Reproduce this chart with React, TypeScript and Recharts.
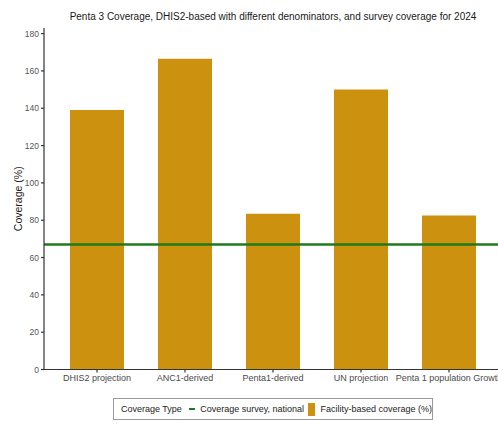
import { ComposedChart, Bar, XAxis, YAxis, ReferenceLine, Legend } from 'recharts'

const categories = ['DHIS2 projection', 'ANC1-derived', 'Penta1-derived', 'UN projection', 'Penta 1 population Growth']
const facilityCoverage = [139, 166.5, 83.5, 150, 82.5]
const surveyCoverage = 67
const yTicks = [0, 20, 40, 60, 80, 100, 120, 140, 160, 180]

const title = 'Penta 3 Coverage, DHIS2-based with different denominators, and survey coverage for 2024'
const legendTitle = 'Coverage Type'
const surveyLabel = 'Coverage survey, national'
const facilityLabel = 'Facility-based coverage (%)'

const GOLD = '#cc920f'
const GREEN = '#1d7a1d'
const AXIS = '#333333'
const FONT = '"Liberation Sans", Arial, sans-serif'

const data = categories.map((name, i) => ({ name, facility: facilityCoverage[i] }))

function LegendBox() {
  return (
    <div
      style={{
        boxSizing: 'border-box',
        width: 320,
        height: 22,
        border: '1px solid #9a9a9a',
        display: 'flex',
        alignItems: 'center',
        fontFamily: FONT,
        fontSize: 9,
        color: '#222',
        paddingLeft: 7,
        whiteSpace: 'nowrap',
      }}
    >
      <span>{legendTitle}</span>
      <span style={{ display: 'inline-block', width: 11, height: 2.5, background: GREEN, margin: '0 5px 0 7px' }} />
      <span>{surveyLabel}</span>
      <span style={{ display: 'inline-block', width: 13, height: 13, background: GOLD, margin: '0 5px 0 4px' }} />
      <span>{facilityLabel}</span>
    </div>
  )
}

export default function App() {
  return (
    <div
      style={{
        position: 'fixed',
        left: 0,
        top: 0,
        width: 498,
        height: 427,
        overflow: 'hidden',
        background: '#ffffff',
      }}
    >
      <div
        style={{
          position: 'absolute',
          left: 44,
          top: 11,
          width: 458,
          textAlign: 'center',
          fontFamily: FONT,
          fontSize: 10,
          color: '#1a1a1a',
          whiteSpace: 'nowrap',
        }}
      >
        {title}
      </div>
      <ComposedChart
        width={520}
        height={427}
        data={data}
        margin={{ top: 28, right: 18, bottom: 37.5, left: 0 }}
      >
        <XAxis
          dataKey="name"
          height={20}
          padding={{ left: 9, right: 9 }}
          interval={0}
          stroke={AXIS}
          strokeWidth={1.2}
          tickSize={3}
          tick={{ fill: '#4a4a4a', fontSize: 9, fontFamily: FONT }}
        />
        <XAxis
          xAxisId="top"
          dataKey="name"
          orientation="top"
          height={0}
          tick={false}
          tickLine={false}
          stroke={AXIS}
          strokeWidth={1.2}
        />
        <YAxis
          width={44}
          domain={[0, 183]}
          ticks={yTicks}
          allowDataOverflow
          stroke={AXIS}
          strokeWidth={1.2}
          tickSize={3}
          tick={{ fill: '#555555', fontSize: 8.5, fontFamily: FONT }}
          label={{
            value: 'Coverage (%)',
            angle: -90,
            position: 'insideLeft',
            offset: 18,
            style: { textAnchor: 'middle', fill: '#1a1a1a', fontSize: 10.5, fontFamily: FONT },
          }}
        />
        <Bar dataKey="facility" fill={GOLD} barSize={54} isAnimationActive={false} />
        <ReferenceLine y={surveyCoverage} stroke={GREEN} strokeWidth={2.5} />
        <Legend
          layout="horizontal"
          verticalAlign="middle"
          align="center"
          wrapperStyle={{ left: 113, top: 398, width: 320, height: 22 }}
          content={() => <LegendBox />}
        />
      </ComposedChart>
    </div>
  )
}
